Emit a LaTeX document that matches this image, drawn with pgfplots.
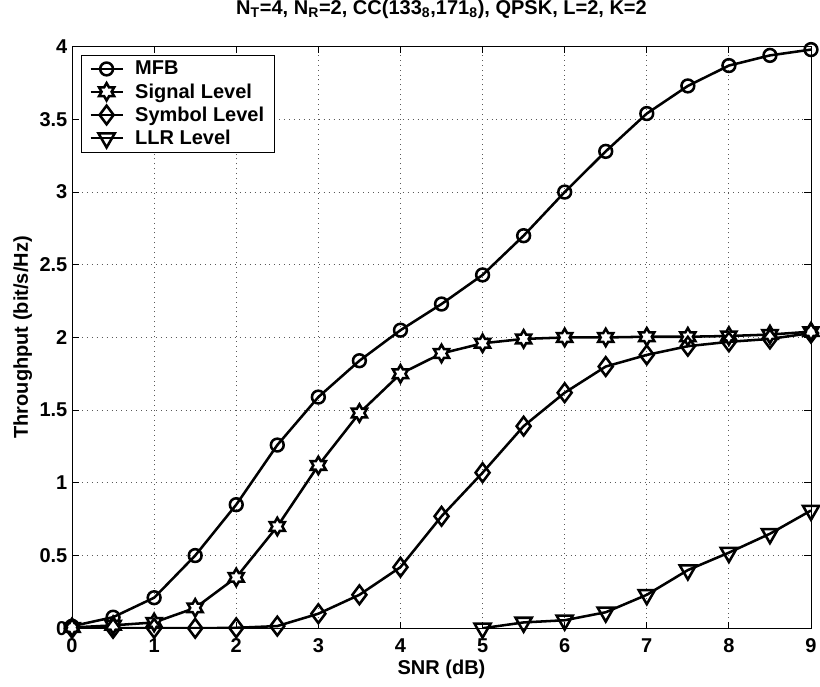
\documentclass[border=0pt]{standalone}
\usepackage{fontspec}
\setmainfont{Liberation Sans}
\usepackage{pgfplots}
\pgfplotsset{compat=1.18}

% six-pointed star like MATLAB's hexagram
\pgfdeclareplotmark{hexagram}{%
  \pgfpathmoveto{\pgfpointpolar{90}{\pgfplotmarksize}}%
  \pgfpathlineto{\pgfpointpolar{120}{0.577\pgfplotmarksize}}%
  \pgfpathlineto{\pgfpointpolar{150}{\pgfplotmarksize}}%
  \pgfpathlineto{\pgfpointpolar{180}{0.577\pgfplotmarksize}}%
  \pgfpathlineto{\pgfpointpolar{210}{\pgfplotmarksize}}%
  \pgfpathlineto{\pgfpointpolar{240}{0.577\pgfplotmarksize}}%
  \pgfpathlineto{\pgfpointpolar{270}{\pgfplotmarksize}}%
  \pgfpathlineto{\pgfpointpolar{300}{0.577\pgfplotmarksize}}%
  \pgfpathlineto{\pgfpointpolar{330}{\pgfplotmarksize}}%
  \pgfpathlineto{\pgfpointpolar{0}{0.577\pgfplotmarksize}}%
  \pgfpathlineto{\pgfpointpolar{30}{\pgfplotmarksize}}%
  \pgfpathlineto{\pgfpointpolar{60}{0.577\pgfplotmarksize}}%
  \pgfpathclose
  \pgfusepathqfillstroke
}

\newcommand{\lbl}{\fontsize{15}{17}\selectfont\bfseries}

\begin{document}
\begin{tikzpicture}
\begin{axis}[
    name=ax,
    scale only axis,
    width=554pt, height=436pt,
    xmin=0, xmax=9,
    ymin=0, ymax=4,
    xtick={0,1,...,9},
    ytick={0,0.5,...,4},
    tick align=inside,
    major tick length=5pt,
    grid=major,
    grid style={black!65, line width=0.7pt, dash pattern=on 0.7pt off 3pt},
    axis line style={line width=0.7pt},
    every tick/.style={black, line width=0.7pt},
    /pgf/number format/assume math mode=true,
    ticklabel style={font=\lbl},
    xticklabel style={anchor=base, yshift=-18pt},
    title={N\textsubscript{T}=4, N\textsubscript{R}=2, CC(133\textsubscript{8},171\textsubscript{8}), QPSK, L=2, K=2},
    title style={font=\lbl, at={(axis description cs:0.5,1)}, anchor=base, yshift=18pt},
    xlabel={SNR (dB)},
    ylabel={Throughput (bit/s/Hz)},
    label style={font=\lbl},
    xlabel style={at={(axis description cs:0.5,0)}, anchor=base, yshift=-35pt},
    ylabel style={at={(axis description cs:-0.0596,0.5)}, anchor=base},
    legend cell align=left,
    legend style={at={(0.0122,0.986)}, anchor=north west, draw=black,
        fill=white, inner xsep=6pt, inner ysep=3pt,
        row sep=2pt, column sep=7pt,
        nodes={inner sep=1.5pt}, font=\lbl},
    legend image code/.code={%
        \draw[line width=1.9pt, mark repeat=2, mark phase=2] plot coordinates {(0pt,0pt) (12pt,0pt) (24pt,0pt)};},
    every axis plot/.append style={black, line width=1.9pt, mark options={solid, fill=white, line width=1.9pt}},
]

\addplot[mark=o, mark size=4.8pt] coordinates {
    (0,0.014) (0.5,0.076) (1,0.21) (1.5,0.50) (2,0.85) (2.5,1.26)
    (3,1.59) (3.5,1.84) (4,2.05) (4.5,2.23) (5,2.43) (5.5,2.70)
    (6,3.00) (6.5,3.28) (7,3.54) (7.5,3.73) (8,3.87) (8.5,3.94) (9,3.98)
};
\addlegendentry{MFB}

\addplot[mark=hexagram, mark size=6.5pt] coordinates {
    (0,0.005) (0.5,0.02) (1,0.04) (1.5,0.14) (2,0.35) (2.5,0.70)
    (3,1.12) (3.5,1.48) (4,1.75) (4.5,1.89) (5,1.96) (5.5,1.99)
    (6,2.00) (6.5,2.00) (7,2.005) (7.5,2.005) (8,2.01) (8.5,2.02) (9,2.04)
};
\addlegendentry{Signal Level}

\addplot[mark=diamond, mark size=7pt] coordinates {
    (0,0) (0.5,0) (1,0) (1.5,0) (2,0.003) (2.5,0.015)
    (3,0.10) (3.5,0.23) (4,0.42) (4.5,0.77) (5,1.07) (5.5,1.39)
    (6,1.62) (6.5,1.80) (7,1.88) (7.5,1.94) (8,1.97) (8.5,1.99) (9,2.03)
};
\addlegendentry{Symbol Level}

\addplot[mark=triangle, mark size=7pt, mark options={rotate=180}] coordinates {
    (5,0) (5.5,0.04) (6,0.055) (6.5,0.11) (7,0.23) (7.5,0.40)
    (8,0.52) (8.5,0.65) (9,0.81)
};
\addlegendentry{LLR Level}

\end{axis}
\pgfresetboundingbox
\path[use as bounding box] ([shift={(-54pt,-44pt)}]ax.south west) rectangle ([shift={(6.75pt,35pt)}]ax.north east);
\end{tikzpicture}
\end{document}
